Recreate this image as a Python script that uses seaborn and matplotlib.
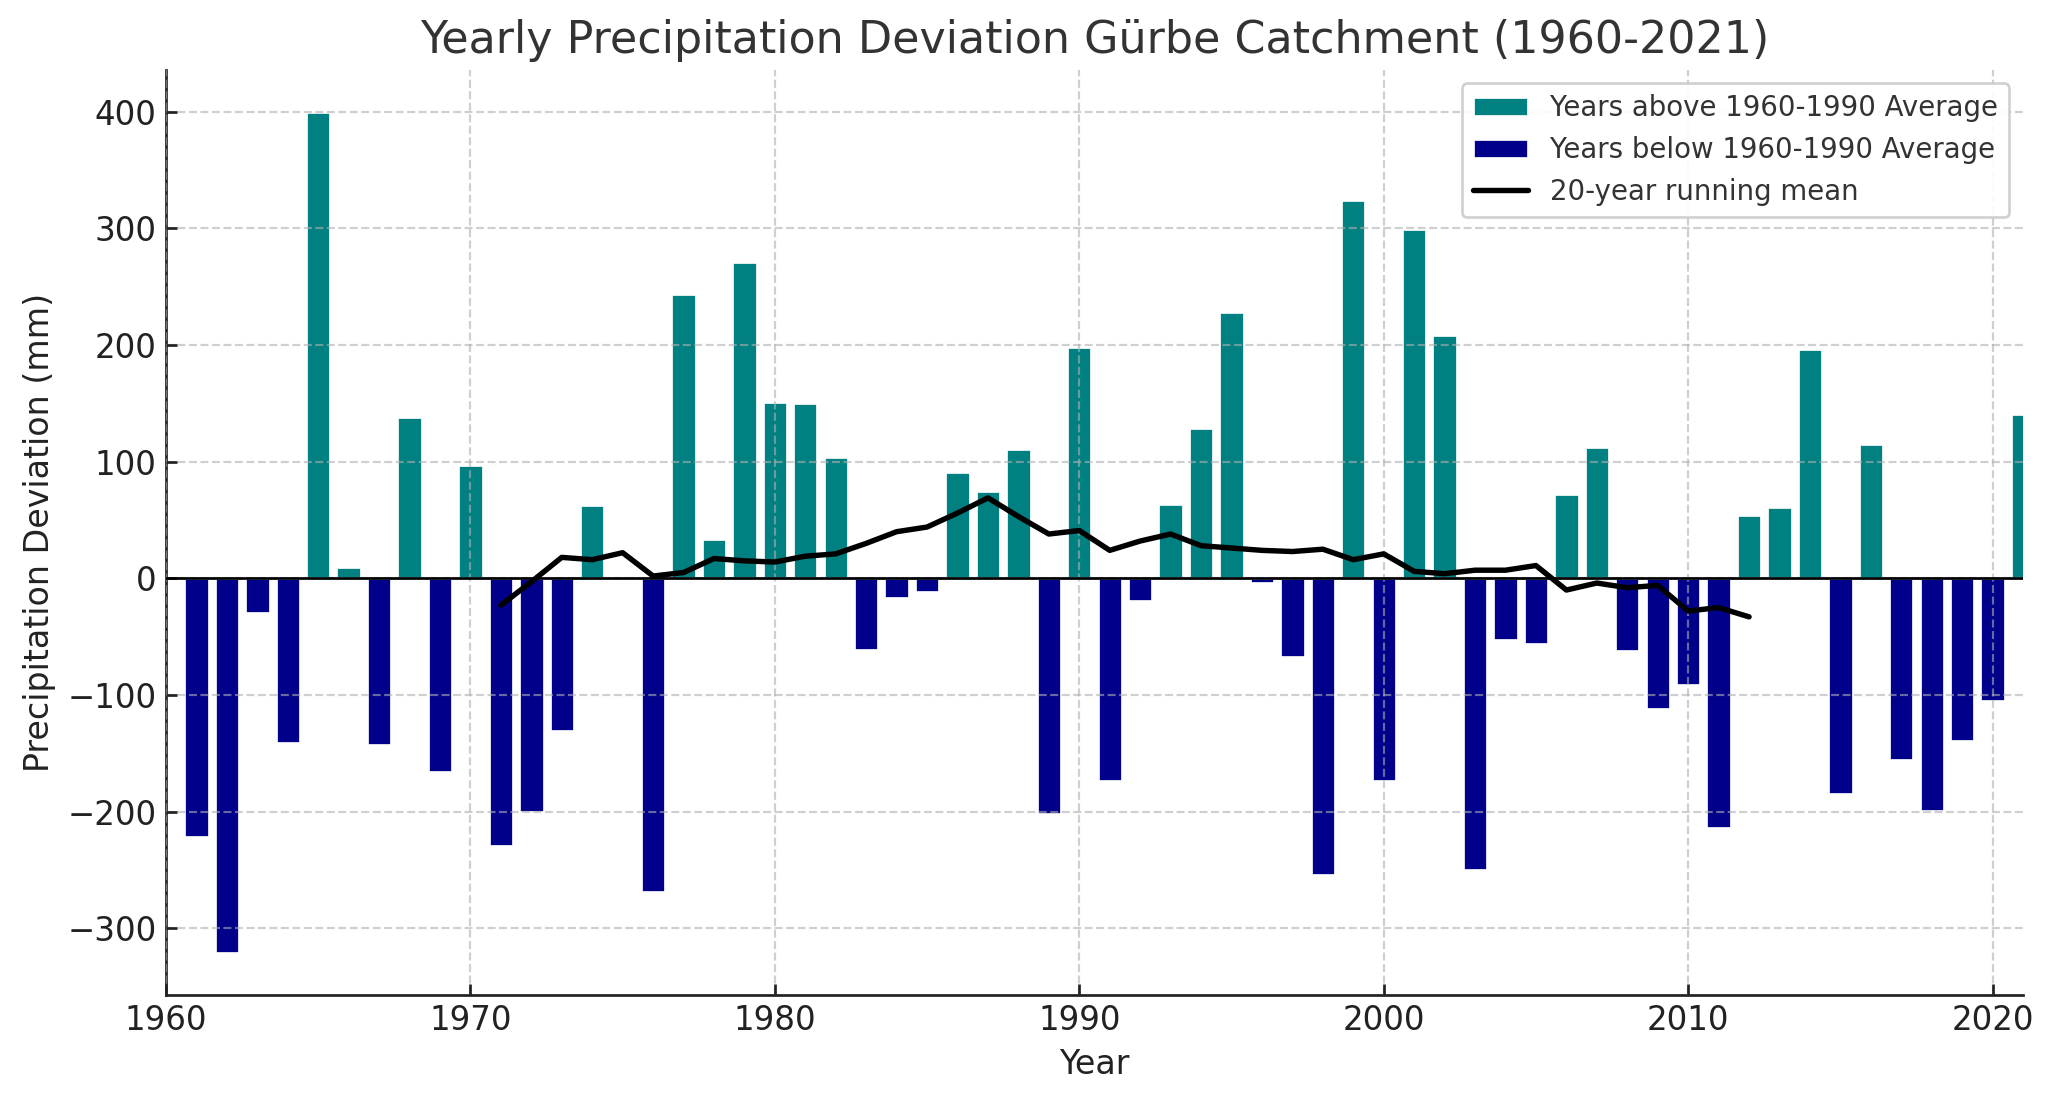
import seaborn as sns
import pandas as pd
import matplotlib.pyplot as plt
import numpy as np

# Yearly deviation from the 1960-1990 average (mm)
years = list(range(1961, 2022))
deviation = [
    -222, -321, -30, -141, 400, 10, -143, 138, -166, 97,       # 1961-1970
    -229, -200, -131, 63, 0, -269, 244, 34, 271, 151,          # 1971-1980
    150, 104, -61, -17, -12, 91, 75, 111, -202, 198,           # 1981-1990
    -174, -19, 64, 129, 228, -4, -67, -254, 324, -174,         # 1991-2000
    299, 209, -250, -53, -56, 72, 113, -62, -112, -91,         # 2001-2010
    -214, 54, 61, 197, -185, 115, -156, -199, -139, -105,      # 2011-2020
    141,                                                       # 2021
]

# 20-year running mean (centred), only where the window is full
mean_years = list(range(1971, 2013))
running_mean = [
    -23, -3, 18, 16, 22, 2, 5, 17, 15, 14,                     # 1971-1980
    19, 21, 30, 40, 44, 56, 69, 53, 38, 41,                    # 1981-1990
    24, 32, 38, 28, 26, 24, 23, 25, 16, 21,                    # 1991-2000
    6, 4, 7, 7, 11, -10, -4, -8, -6, -28,                      # 2001-2010
    -25, -33,                                                  # 2011-2012
]

label_above = 'Years above 1960-1990 Average'
label_below = 'Years below 1960-1990 Average'

df = pd.DataFrame({'Year': years, 'Deviation': deviation})
df['Group'] = np.where(df['Deviation'] >= 0, label_above, label_below)

sns.set_style('ticks')
plt.rcParams['font.family'] = ['DejaVu Sans']

dpi = 195
fig, ax = plt.subplots(figsize=(2057 / dpi, 1101 / dpi), dpi=dpi)
fig.subplots_adjust(left=0.0807, right=0.9835, bottom=0.0963, top=0.9368)

sns.barplot(data=df, x='Year', y='Deviation', hue='Group',
            hue_order=[label_above, label_below],
            palette={label_above: '#008080', label_below: '#00008B'},
            native_scale=True, dodge=False, width=0.8, saturation=1,
            errorbar=None, ax=ax)
ax.axhline(0, color='black', lw=1, zorder=3)
sns.lineplot(x=mean_years, y=running_mean, color='black', lw=2,
             label='20-year running mean', ax=ax, zorder=4)

ax.set_xlim(1960, 2021)
ax.set_xticks(range(1960, 2021, 10))
ax.grid(True, linestyle='--', color='#b0b0b0', alpha=0.6, lw=0.8)
ax.set_axisbelow(False)
for s in ['top', 'right']:
    ax.spines[s].set_visible(False)
for s in ['left', 'bottom']:
    ax.spines[s].set_color('#222222')
    ax.spines[s].set_linewidth(1)
ax.tick_params(direction='in', length=4, width=1, labelsize=12, colors='#222222')

ax.set_title('Yearly Precipitation Deviation Gürbe Catchment (1960-2021)',
             fontsize=16.4, color='#333333')
ax.set_xlabel('Year', fontsize=12.3, color='#222222')
ax.set_ylabel('Precipitation Deviation (mm)', fontsize=12.3, color='#222222')

leg = ax.legend(loc='upper right', fontsize=10.2, frameon=True, fancybox=True,
                edgecolor='#cccccc', framealpha=0.9)
for t in leg.get_texts():
    t.set_color('#333333')

plt.savefig('out.png', dpi=dpi)
